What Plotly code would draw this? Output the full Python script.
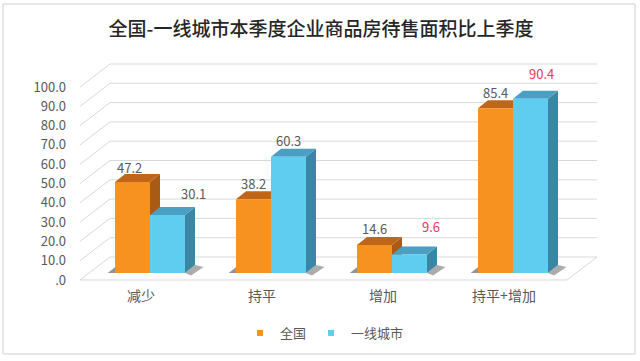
import plotly.graph_objects as go

# ---------------- data ----------------
categories = ["减少", "持平", "增加", "持平+增加"]
series_names = ["全国", "一线城市"]
values_national = [47.2, 38.2, 14.6, 85.4]
values_tier1 = [30.1, 60.3, 9.6, 90.4]
y_tick_values = [0, 10, 20, 30, 40, 50, 60, 70, 80, 90, 100]
y_tick_labels = [".0", "10.0", "20.0", "30.0", "40.0", "50.0", "60.0", "70.0", "80.0", "90.0", "100.0"]
title_text = "全国-一线城市本季度企业商品房待售面积比上季度"

# ---------------- style / geometry ----------------
W, H = 640, 361
L, R, T, B = 72, 20, 50, 79
PX_X = 121.0          # pixels per category step
PX_Y = 1.93           # pixels per value unit
plot_w = W - L - R
plot_h = H - T - B
x_min = (L - 141) / PX_X
x_range = [x_min, x_min + plot_w / PX_X]
y_min = -(H - B - 280) / PX_Y
y_range = [y_min, y_min + plot_h / PX_Y]

DX, DY = 30 / PX_X, 23 / PX_Y      # full depth of the 3D box
FRONT = 0.3                         # depth position of the bar front faces
BDX, BDY = 10 / PX_X, 8 / PX_Y      # depth of a bar
BAR_W = 35 / PX_X
x_floor_left = (80 - 141) / PX_X
x_floor_right = (567 - 141) / PX_X

colors = {
    "全国": {"front": "#F7911F", "top": "#C0661A", "side": "#A95A14"},
    "一线城市": {"front": "#5ECDF0", "top": "#4A9FC3", "side": "#3A86A4"},
}
label_gray = "#595959"
label_red = "#E8385A"
highlight = {("一线城市", "增加"), ("一线城市", "持平+增加")}
# label offsets in pixels (dx, dy above the bar's front top), as Excel placed them
label_nudge_default = (0, 16)
label_nudge = {
    ("全国", "减少"): (-3, 15),
    ("一线城市", "减少"): (26, 22),
    ("一线城市", "增加"): (21, 28),
    ("一线城市", "持平+增加"): (11, 25),
}
font_family = "Noto Sans CJK SC, Noto Sans, sans-serif"
grid_color = "#D9D9D9"

fig = go.Figure()

base = FRONT * DY
shift = FRONT * DX
series = [("全国", values_national, -1), ("一线城市", values_tier1, 1)]

shapes = []

# floor
fx0, fx1 = x_floor_left, x_floor_right
shapes.append(dict(type="path", xref="x", yref="y", layer="below",
                   path=f"M{fx0},0 L{fx1},0 L{fx1+DX},{DY} L{fx0+DX},{DY} Z",
                   line=dict(color=grid_color, width=1), fillcolor="white"))
# gridlines (left wall diagonal + back wall horizontal)
for v in y_tick_values[1:]:
    shapes.append(dict(type="path", xref="x", yref="y", layer="below",
                       path=f"M{fx0},{v} L{fx0+DX},{v+DY} L{fx1+DX},{v+DY}",
                       line=dict(color=grid_color, width=1)))

# soft shadows on the floor
for i in range(len(categories)):
    xc = i + shift
    xr = xc + BAR_W
    shapes.append(dict(type="path", xref="x", yref="y", layer="below",
                       path=(f"M{xr},{base} L{xr+BDX},{base+BDY} L{xr+BDX+0.07},{base+BDY-1.0} "
                             f"L{xr+0.05},{base-1.2} Z"),
                       line=dict(width=0), fillcolor="rgba(70,70,70,0.45)"))
    xl = xc - BAR_W
    shapes.append(dict(type="path", xref="x", yref="y", layer="below",
                       path=f"M{xl},{base} L{xl-0.06},{base} L{xl},{base+3} Z",
                       line=dict(width=0), fillcolor="rgba(60,60,60,0.55)"))

# 3D faces of bars
for name, vals, side in series:
    c = colors[name]
    for i, v in enumerate(vals):
        xc = i + shift
        x0 = xc if side > 0 else xc - BAR_W
        x1 = x0 + BAR_W
        top = base + v
        shapes.append(dict(type="path", xref="x", yref="y", layer="below",
                           path=f"M{x1},{base} L{x1},{top} L{x1+BDX},{top+BDY} L{x1+BDX},{base+BDY} Z",
                           line=dict(width=0), fillcolor=c["side"]))
        shapes.append(dict(type="path", xref="x", yref="y", layer="below",
                           path=f"M{x0},{top} L{x1},{top} L{x1+BDX},{top+BDY} L{x0+BDX},{top+BDY} Z",
                           line=dict(width=0), fillcolor=c["top"]))

# border
shapes.append(dict(type="rect", xref="paper", yref="paper",
                   x0=(3 - L) / plot_w, x1=(635 - L) / plot_w,
                   y0=-(354 - (H - B)) / plot_h, y1=((H - B) - 4) / plot_h,
                   line=dict(color="#D0D0D0", width=1), layer="above"))

# bars (front faces)
for name, vals, side in series:
    fig.add_trace(go.Bar(
        x=[i + shift for i in range(len(categories))], y=vals, base=base,
        name=name, marker=dict(color=colors[name]["front"], line=dict(width=0)),
        showlegend=False, hovertemplate=name + ": %{y}<extra></extra>"))

# value labels
for name, vals, side in series:
    for i, (cat, v) in enumerate(zip(categories, vals)):
        ndx, ndy = label_nudge.get((name, cat), label_nudge_default)
        fig.add_annotation(
            x=i + shift + side * BAR_W / 2, y=base + v, xref="x", yref="y",
            text=f"{v:.1f}", showarrow=False, xshift=ndx, yshift=ndy,
            xanchor="center", yanchor="middle",
            font=dict(color=label_red if (name, cat) in highlight else label_gray,
                      size=13, family=font_family))

# legend entries
for name, vals, side in series:
    fig.add_trace(go.Scatter(
        x=[None], y=[None], mode="markers", name=name,
        marker=dict(symbol="square", size=6, color=colors[name]["front"])))

fig.update_layout(
    width=W, height=H,
    margin=dict(l=L, r=R, t=T, b=B, pad=0),
    paper_bgcolor="white", plot_bgcolor="white",
    barmode="group", bargap=1 - 2 * BAR_W, bargroupgap=0,
    shapes=shapes,
    title=dict(text=title_text, x=321 / W, xref="container", xanchor="center",
               y=1 - 29 / H, yref="container", yanchor="middle",
               font=dict(size=19, color="#262626", family=font_family, weight=500)),
    xaxis=dict(range=x_range, tickvals=list(range(len(categories))), ticktext=categories,
               showgrid=False, zeroline=False, showline=False, ticks="",
               ticklabelstandoff=4,
               tickfont=dict(size=14, color=label_gray, family=font_family)),
    yaxis=dict(range=y_range, tickvals=y_tick_values, ticktext=y_tick_labels,
               showgrid=False, zeroline=False, showline=False, ticks="",
               ticklabelstandoff=5,
               tickfont=dict(size=13, color=label_gray, family=font_family)),
    legend=dict(orientation="h", x=(240 - L) / plot_w, xanchor="left",
                y=-(333 - (H - B)) / plot_h, yanchor="middle",
                font=dict(size=13, color=label_gray, family=font_family),
                itemwidth=30, tracegroupgap=0, bgcolor="rgba(0,0,0,0)"),
    font=dict(family=font_family),
)

fig.write_html("out.html", config={"displayModeBar": False},
               post_script="document.body.style.margin='0';")
